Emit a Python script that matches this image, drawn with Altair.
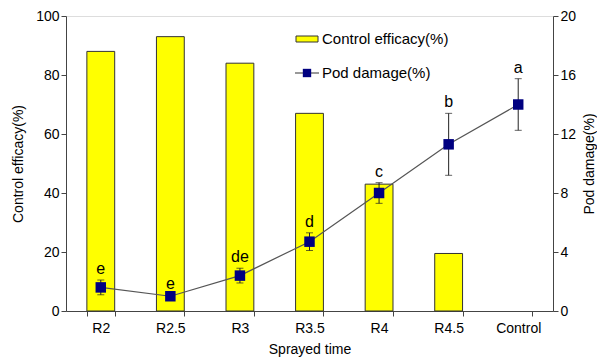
import altair as alt
import pandas as pd

categories = ["R2", "R2.5", "R3", "R3.5", "R4", "R4.5", "Control"]
efficacy = [88, 93, 84, 67, 43, 19.5, 0]
damage = [1.6, 1.0, 2.4, 4.7, 8.0, 11.3, 14.0]
damage_err = [0.5, 0.1, 0.5, 0.6, 0.7, 2.1, 1.75]
letters = ["e", "e", "de", "d", "c", "b", "a"]

df = pd.DataFrame({
    "cat": categories,
    "eff": efficacy,
    "dmg": damage,
    "lo": [d - e for d, e in zip(damage, damage_err)],
    "hi": [d + e for d, e in zip(damage, damage_err)],
    "lab": letters,
})

FONT = "Liberation Sans"
AX = "#444444"

xenc = alt.X("cat:N", sort=categories, title="Sprayed time",
             scale=alt.Scale(paddingInner=0.6, paddingOuter=0.3),
             axis=alt.Axis(labelAngle=0, tickBand="extent", tickSize=5,
                           labelFontSize=14, titleFontSize=14, labelPadding=5,
                           titlePadding=7, labelColor="black", titleColor="black",
                           domainColor=AX, tickColor=AX, labelFont=FONT, titleFont=FONT,
                           titleFontWeight="normal"))

base = alt.Chart(df)

bars = base.transform_filter("datum.eff > 0").mark_bar(
    color="#FFFF00", stroke="#333333", strokeWidth=1).encode(
    x=xenc,
    y=alt.Y("eff:Q", title="Control efficacy(%)",
            scale=alt.Scale(domain=[0, 100]),
            axis=alt.Axis(orient="left", values=[0, 20, 40, 60, 80, 100], tickSize=5,
                          labelFontSize=14, titleFontSize=14, grid=False,
                          labelColor="black", titleColor="black", domainColor=AX, tickColor=AX,
                          labelFont=FONT, titleFont=FONT, titleFontWeight="normal", titlePadding=10)),
)

yR = alt.Y("dmg:Q", title="Pod damage(%)", scale=alt.Scale(domain=[0, 20]),
           axis=alt.Axis(orient="right", values=[0, 4, 8, 12, 16, 20], tickSize=5,
                         labelFontSize=14, titleFontSize=14, grid=False, titleAngle=270,
                         labelColor="black", titleColor="black", domainColor=AX, tickColor=AX,
                         labelFont=FONT, titleFont=FONT, titleFontWeight="normal", titlePadding=21))

line = base.mark_line(color="#555555", strokeWidth=1.2).encode(x=xenc, y=yR)
errs = base.mark_rule(color="#222222", strokeWidth=1).encode(
    x=xenc, y=alt.Y("lo:Q", scale=alt.Scale(domain=[0, 20])), y2="hi:Q")
caps_lo = base.mark_tick(color="#222222", thickness=1, size=7, orient="horizontal").encode(
    x=xenc, y=alt.Y("lo:Q", scale=alt.Scale(domain=[0, 20])))
caps_hi = base.mark_tick(color="#222222", thickness=1, size=7, orient="horizontal").encode(
    x=xenc, y=alt.Y("hi:Q", scale=alt.Scale(domain=[0, 20])))
pts = base.mark_square(color="#000080", size=110, opacity=1).encode(x=xenc, y=yR)
txt = base.mark_text(fontSize=16, font=FONT, baseline="bottom", dy=-3, color="black").encode(
    x=xenc, y=alt.Y("hi:Q", scale=alt.Scale(domain=[0, 20])), text="lab:N")

right = alt.layer(line, errs, caps_lo, caps_hi, pts, txt)

# legend decorations
leg_df = pd.DataFrame({"k": [0]})
lb = alt.Chart(leg_df)
leg_rect = lb.mark_rect(color="#FFFF00", stroke="#333333", strokeWidth=1).encode(
    x=alt.value(230), x2=alt.value(252), y=alt.value(20), y2=alt.value(26))
leg_t1 = lb.mark_text(align="left", baseline="middle", fontSize=15, font=FONT).encode(
    x=alt.value(256), y=alt.value(23), text=alt.value("Control efficacy(%)"))
leg_line = lb.mark_rule(color="#555555", strokeWidth=1.2).encode(
    x=alt.value(229), x2=alt.value(253), y=alt.value(57))
leg_pt = lb.mark_square(color="#000080", size=70, opacity=1).encode(
    x=alt.value(241), y=alt.value(57))
leg_t2 = lb.mark_text(align="left", baseline="middle", fontSize=15, font=FONT).encode(
    x=alt.value(256), y=alt.value(57), text=alt.value("Pod damage(%)"))

legend = alt.layer(leg_rect, leg_t1, leg_line, leg_pt, leg_t2)

chart = alt.layer(bars, right, legend).resolve_scale(y="independent").properties(
    width=487, height=295,
    autosize=alt.AutoSizeParams(type="none"),
    padding={"left": 58, "top": 8, "right": 44, "bottom": 47},
).configure_view(stroke=AX, strokeWidth=1).configure(background="white")

chart.save("out.html", embed_options={"renderer": "svg", "actions": False})
